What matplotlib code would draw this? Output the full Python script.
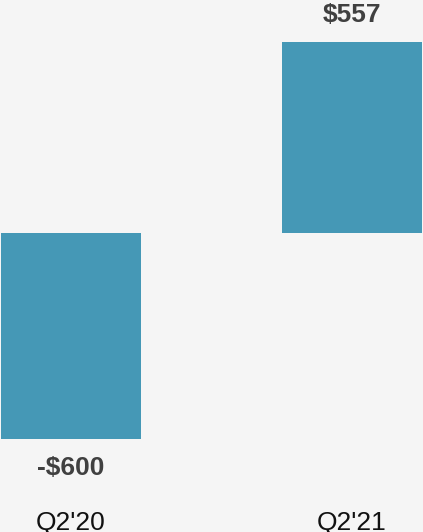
import matplotlib.pyplot as plt

# quarterly values ($)
quarters = ["Q2'20", "Q2'21"]
values = [-600, 557]
value_labels = ["-$600", "$557"]

plt.rcParams['font.family'] = ['Liberation Sans', 'DejaVu Sans']

fig = plt.figure(figsize=(4.23, 5.32), dpi=100)
fig.patch.set_facecolor('#f5f5f5')
ax = fig.add_axes([0, 0, 1, 1])
ax.set_facecolor('#f5f5f5')

x = range(len(quarters))
bars = ax.bar(x, values, width=0.498, color='#4598b6')

ax.set_xlim(-0.2527, 1.2527)
ax.set_ylim(-871, 679)

# value labels above/below each bar
for xi, v, lab in zip(x, values, value_labels):
    off = 27 if v > 0 else -29
    ax.annotate(lab, (xi, v), xytext=(0, off), textcoords='offset pixels',
                ha='center', va='center', fontsize=19, fontweight='bold',
                color='#404040')

# category labels along the bottom edge
for xi, q in zip(x, quarters):
    ax.text(xi, -846, q, ha='center', va='center', fontsize=19, color='#111111')

ax.axis('off')
fig.savefig('out.png', dpi=100, facecolor=fig.get_facecolor())
